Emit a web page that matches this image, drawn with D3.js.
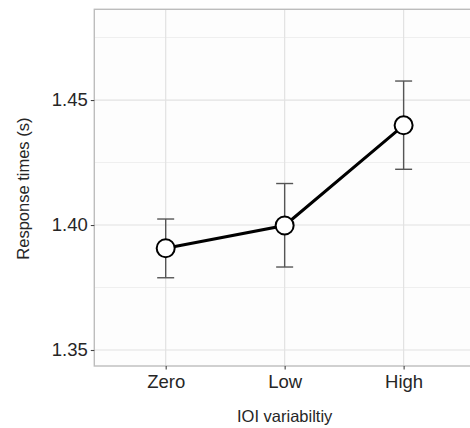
<!DOCTYPE html>
<html>
<head>
<meta charset="utf-8">
<script src="https://cdn.jsdelivr.net/npm/d3@7"></script>
<style>
  body { margin: 0; background: #ffffff; }
  svg { display: block; font-family: "Liberation Sans", Arial, sans-serif; }
</style>
</head>
<body>
<script>
// categories and values
var categories = ["Zero", "Low", "High"];
var means = [1.3907, 1.3998, 1.4399];
var upper = [1.4024, 1.4166, 1.4576];
var lower = [1.3789, 1.3832, 1.4223];
var yTicks = [1.35, 1.40, 1.45];
var yMinor = [1.375, 1.425, 1.475];

var width = 470, height = 428;
var panel = { left: 94.3, top: 9.3, right: 475, bottom: 366 };

var svg = d3.select("body").append("svg")
    .attr("width", width)
    .attr("height", height);

// ggplot style discrete scale, 0.6 expansion on each side
var x = d3.scalePoint()
    .domain(categories)
    .range([panel.left, panel.right])
    .padding(0.6);

var y = d3.scaleLinear()
    .domain([1.3436, 1.4863])
    .range([panel.bottom, panel.top]);

// panel background
svg.append("rect")
    .attr("x", panel.left)
    .attr("y", panel.top)
    .attr("width", panel.right - panel.left)
    .attr("height", panel.bottom - panel.top)
    .attr("fill", "#fdfdfd");

// minor gridlines
svg.selectAll("line.minor")
    .data(yMinor)
    .enter().append("line")
    .attr("class", "minor")
    .attr("x1", panel.left).attr("x2", panel.right)
    .attr("y1", function (d) { return y(d); })
    .attr("y2", function (d) { return y(d); })
    .attr("stroke", "#efefef")
    .attr("stroke-width", 1);

// major gridlines
svg.selectAll("line.majorY")
    .data(yTicks)
    .enter().append("line")
    .attr("class", "majorY")
    .attr("x1", panel.left).attr("x2", panel.right)
    .attr("y1", function (d) { return y(d); })
    .attr("y2", function (d) { return y(d); })
    .attr("stroke", "#e2e2e2")
    .attr("stroke-width", 1.2);

svg.selectAll("line.majorX")
    .data(categories)
    .enter().append("line")
    .attr("class", "majorX")
    .attr("x1", function (d) { return x(d); })
    .attr("x2", function (d) { return x(d); })
    .attr("y1", panel.top).attr("y2", panel.bottom)
    .attr("stroke", "#e2e2e2")
    .attr("stroke-width", 1.2);

// panel border
svg.append("rect")
    .attr("x", panel.left)
    .attr("y", panel.top)
    .attr("width", panel.right - panel.left)
    .attr("height", panel.bottom - panel.top)
    .attr("fill", "none")
    .attr("stroke", "#bdbdbd")
    .attr("stroke-width", 1.4);

// axes
var yAxis = svg.append("g")
    .attr("transform", "translate(" + panel.left + ",0)")
    .call(d3.axisLeft(y).tickValues(yTicks).tickFormat(d3.format(".2f")).tickSize(3.5).tickPadding(3));

var xAxis = svg.append("g")
    .attr("transform", "translate(0," + panel.bottom + ")")
    .call(d3.axisBottom(x).tickSize(3.5).tickPadding(4));

[yAxis, xAxis].forEach(function (g) {
    g.select(".domain").remove();
    g.selectAll(".tick line").attr("stroke", "#444").attr("stroke-width", 1.1);
    g.selectAll(".tick text")
        .attr("fill", "#262626")
        .style("font-size", "18.5px");
});
xAxis.selectAll(".tick text").attr("dy", "0.8em");

// error bars
var data = categories.map(function (c, i) {
    return { cat: c, mean: means[i], hi: upper[i], lo: lower[i] };
});

var bars = svg.selectAll("g.err")
    .data(data)
    .enter().append("g")
    .attr("class", "err")
    .attr("stroke", "#555")
    .attr("stroke-width", 1.4);

bars.append("line")
    .attr("x1", function (d) { return x(d.cat); })
    .attr("x2", function (d) { return x(d.cat); })
    .attr("y1", function (d) { return y(d.hi); })
    .attr("y2", function (d) { return y(d.lo); });
bars.append("line")
    .attr("x1", function (d) { return x(d.cat) - 8.5; })
    .attr("x2", function (d) { return x(d.cat) + 8.5; })
    .attr("y1", function (d) { return y(d.hi); })
    .attr("y2", function (d) { return y(d.hi); });
bars.append("line")
    .attr("x1", function (d) { return x(d.cat) - 8.5; })
    .attr("x2", function (d) { return x(d.cat) + 8.5; })
    .attr("y1", function (d) { return y(d.lo); })
    .attr("y2", function (d) { return y(d.lo); });

// mean line
svg.append("path")
    .datum(data)
    .attr("fill", "none")
    .attr("stroke", "#000")
    .attr("stroke-width", 3)
    .attr("d", d3.line()
        .x(function (d) { return x(d.cat); })
        .y(function (d) { return y(d.mean); }));

// points
svg.selectAll("circle")
    .data(data)
    .enter().append("circle")
    .attr("cx", function (d) { return x(d.cat); })
    .attr("cy", function (d) { return y(d.mean); })
    .attr("r", 9)
    .attr("fill", "#fff")
    .attr("stroke", "#000")
    .attr("stroke-width", 2);

// axis titles
svg.append("text")
    .attr("x", x("Low"))
    .attr("y", 422)
    .attr("text-anchor", "middle")
    .attr("fill", "#262626")
    .style("font-size", "16.5px")
    .text("IOI variabiltiy");

svg.append("text")
    .attr("transform", "translate(28.5," + ((panel.top + panel.bottom) / 2 + 1) + ") rotate(-90)")
    .attr("text-anchor", "middle")
    .attr("fill", "#262626")
    .style("font-size", "16.5px")
    .text("Response times (s)");
</script>
</body>
</html>
